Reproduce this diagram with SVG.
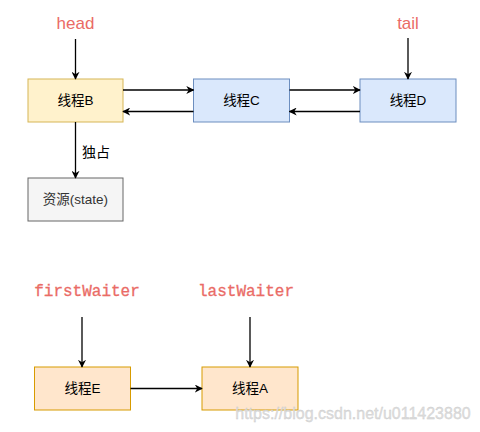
<svg xmlns="http://www.w3.org/2000/svg" width="480" height="432" viewBox="0 0 480 432">
<style>
.t{font-family:"Liberation Sans","Noto Sans CJK SC",sans-serif;font-size:13.5px;fill:#000;text-anchor:middle;dominant-baseline:central}
.r{font-family:"Liberation Sans",Arial,sans-serif;font-size:17px;fill:#ea6b66;text-anchor:middle}
.m{font-family:"Liberation Mono","Courier New",monospace;font-size:16px;fill:#ea6b66;text-anchor:middle;stroke:#ea6b66;stroke-width:0.3}
.e{stroke:#000;stroke-width:1.3;fill:none;marker-end:url(#ah)}
</style>
<defs>
<marker id="ah" viewBox="0 0 10 10" refX="9" refY="5" markerWidth="8" markerHeight="8" markerUnits="userSpaceOnUse" orient="auto">
<path d="M0,0 L10,5 L0,10 L3,5 Z" fill="#000"/>
</marker>
</defs>
<rect width="480" height="432" fill="#fff"/>
<text class="r" x="75.5" y="29">head</text>
<text class="r" x="408" y="29">tail</text>
<text class="m" x="87" y="296">firstWaiter</text>
<text class="m" x="246" y="296">lastWaiter</text>
<g id="nodeB"><rect x="28" y="79" width="95" height="43" fill="#fff2cc" stroke="#d6b656"/><text class="t" x="75.5" y="100.5">线程B</text></g>
<g id="nodeC"><rect x="193.5" y="79" width="96" height="43" fill="#dae8fc" stroke="#6c8ebf"/><text class="t" x="241.5" y="100.5">线程C</text></g>
<g id="nodeD"><rect x="360" y="79" width="96" height="43" fill="#dae8fc" stroke="#6c8ebf"/><text class="t" x="408" y="100.5">线程D</text></g>
<g id="nodeRes"><rect x="28" y="178" width="95" height="43" fill="#f5f5f5" stroke="#666"/><text class="t" x="75.5" y="199.5" style="fill:#333">资源(state)</text></g>
<g id="nodeE"><rect x="34.5" y="367" width="96" height="43" fill="#ffe6cc" stroke="#d79b00"/><text class="t" x="82.5" y="388.5">线程E</text></g>
<g id="nodeA"><rect x="202" y="367" width="96" height="43" fill="#ffe6cc" stroke="#d79b00"/><text class="t" x="250" y="388.5">线程A</text></g>
<g id="connectors">
<path class="e" d="M75.5,39 L75.5,79"/>
<path class="e" d="M408,38 L408,79"/>
<path class="e" d="M123,90 L193.5,90"/>
<path class="e" d="M193.5,111.5 L123,111.5"/>
<path class="e" d="M289.5,90 L360,90"/>
<path class="e" d="M360,111.5 L289.5,111.5"/>
<path class="e" d="M75.5,122 L75.5,178"/>
<text class="t" x="96" y="152" style="font-size:14px">独占</text>
<path class="e" d="M82,317 L82,367"/>
<path class="e" d="M250,317 L250,367"/>
<path class="e" d="M130.5,388.5 L202,388.5"/>
</g>
<text x="353" y="419" font-family="Liberation Sans,Arial,sans-serif" font-size="16" fill="#dedede" stroke="#c8c8c8" stroke-width="0.3" text-anchor="middle">https://blog.csdn.net/u011423880</text>
</svg>
